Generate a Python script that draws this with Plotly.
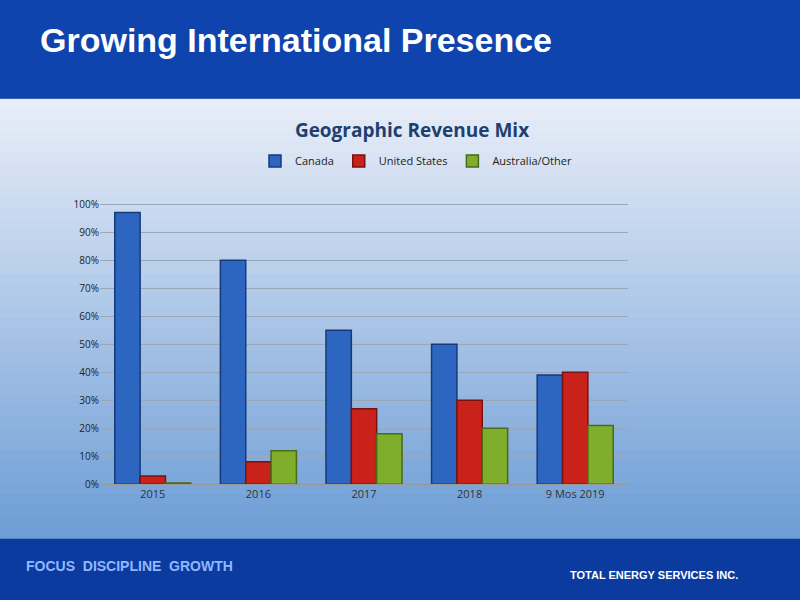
import plotly.graph_objects as go

categories = ["2015", "2016", "2017", "2018", "9 Mos 2019"]
canada = [0.97, 0.80, 0.55, 0.50, 0.39]
united_states = [0.03, 0.08, 0.27, 0.30, 0.40]
australia_other = [0.005, 0.12, 0.18, 0.20, 0.21]
y_ticks = [i / 10 for i in range(11)]
y_tick_text = [f"{i*10}%" for i in range(11)]

fig = go.Figure()
series = [("Canada", canada, "#2d66c0", "#163a78"),
          ("United States", united_states, "#c8221b", "#7a1010"),
          ("Australia/Other", australia_other, "#7fae2c", "#4a6a14")]
for name, vals, col, edge in series:
    fig.add_bar(x=categories, y=vals, name=name, marker=dict(color=col, line=dict(color=edge, width=1.5)))

shapes = []
top, bot = 100, 545
n = 40
c1, c2 = (232, 238, 248), (110, 158, 214)
for i in range(n):
    t = i / (n - 1)
    r, g, b = [int(c1[k] + (c2[k] - c1[k]) * t) for k in range(3)]
    y0 = top + (bot - top) * i / n
    y1 = top + (bot - top) * (i + 1) / n
    shapes.append(dict(type="rect", xref="paper", yref="paper", x0=0, x1=1,
                       y0=1 - y1 / 600 - 0.001, y1=1 - y0 / 600 + 0.001,
                       fillcolor=f"rgb({r},{g},{b})", line=dict(width=0), layer="below"))
shapes.append(dict(type="rect", xref="paper", yref="paper", x0=0, x1=1, y0=1 - 100/600, y1=1,
                   fillcolor="#0f43ad", line=dict(width=0), layer="below"))
shapes.append(dict(type="rect", xref="paper", yref="paper", x0=0, x1=1, y0=0, y1=1 - 545/600,
                   fillcolor="#0b3b9f", line=dict(width=0), layer="below"))

fig.update_layout(
    width=800, height=600, margin=dict(l=0, r=0, t=0, b=0),
    paper_bgcolor="#0b3b9f", plot_bgcolor="rgba(0,0,0,0)",
    shapes=shapes, barmode="group", bargap=0.28, bargroupgap=0.0,
    font=dict(family="Liberation Sans, Arial", color="#333"),
    title=dict(text="<b>Geographic Revenue Mix</b>", x=0.515, xanchor="center", y=1 - 130/600, yanchor="middle",
               font=dict(family="Open Sans", size=19, color="#1f3f6e")),
    legend=dict(orientation="h", x=0.52, xanchor="center", y=1 - 163/600, yanchor="middle",
                font=dict(family="Open Sans", size=11, color="#222"), bgcolor="rgba(0,0,0,0)",
                itemwidth=30),
    xaxis=dict(domain=[0.125, 0.785], showgrid=False, showline=True, linecolor="#999",
               tickfont=dict(family="Open Sans", size=11, color="#333"), ticks=""),
    yaxis=dict(domain=[1 - 490/600, 1 - 198/600], range=[0, 1.03], tickvals=y_ticks, ticktext=y_tick_text,
               gridcolor="#9aa7b8", gridwidth=1, zeroline=False, showline=False,
               tickfont=dict(family="Open Sans", size=10, color="#222")),
    annotations=[
        dict(text="<b>Growing International Presence</b>", xref="paper", yref="paper", x=0.048, y=1 - 40/600,
             xanchor="left", yanchor="middle", showarrow=False,
             font=dict(family="Liberation Sans", size=34, color="white")),
        dict(text="<b>FOCUS  DISCIPLINE  GROWTH</b>", xref="paper", yref="paper", x=0.03, y=1 - 573/600,
             xanchor="left", yanchor="middle", showarrow=False,
             font=dict(family="Liberation Sans", size=14, color="#8fb8ff")),
        dict(text="<b>TOTAL ENERGY SERVICES INC.</b>", xref="paper", yref="paper", x=0.925, y=1 - 582/600,
             xanchor="right", yanchor="middle", showarrow=False,
             font=dict(family="Liberation Sans", size=11, color="white")),
    ],
)
fig.write_html("out.html", config={"displayModeBar": False},
               post_script="document.body.style.margin='0';")
